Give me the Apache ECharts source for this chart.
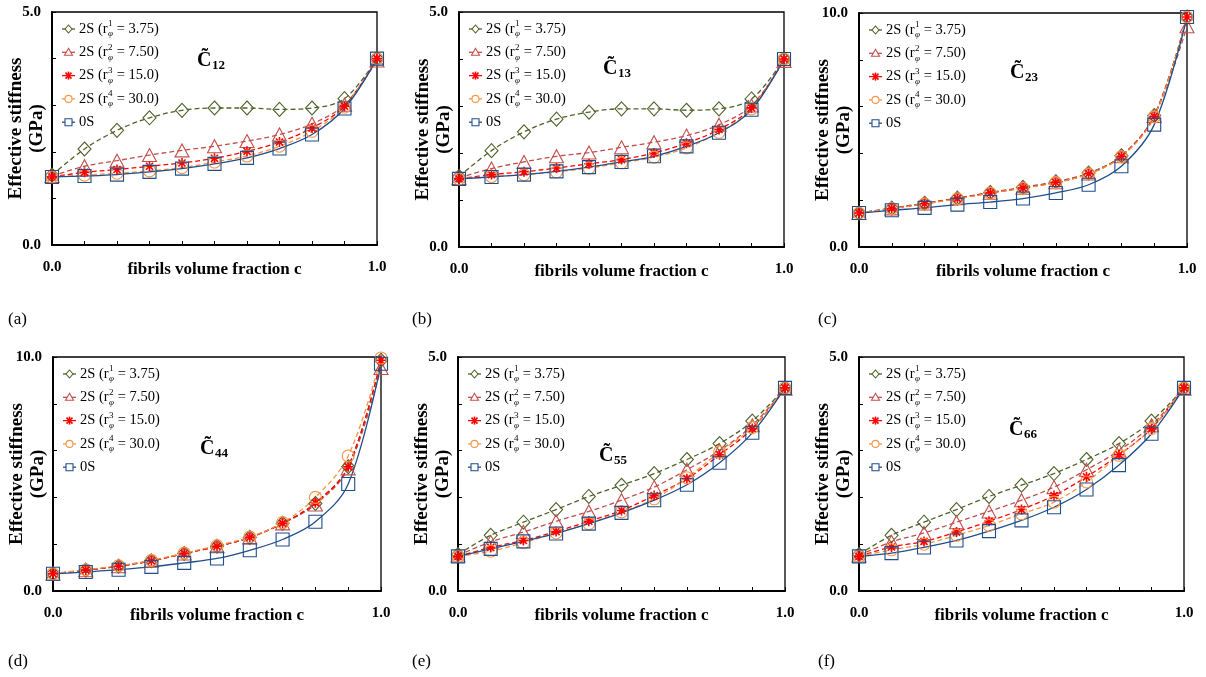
<!DOCTYPE html>
<html><head><meta charset="utf-8">
<script src="https://cdn.jsdelivr.net/npm/echarts@6/dist/echarts.min.js"></script>
<style>html,body{margin:0;padding:0;background:#fff}#c{width:1206px;height:677px}</style>
</head><body><div id="c"></div>
<script>
// ---------------- DATA ----------------
const cFrac = [0, 0.1, 0.2, 0.3, 0.4, 0.5, 0.6, 0.7, 0.8, 0.9, 1.0];

const c12_r1 = [1.50, 2.06, 2.46, 2.73, 2.89, 2.94, 2.94, 2.91, 2.94, 3.14, 4.00];
const c12_r2 = [1.48, 1.69, 1.81, 1.93, 2.03, 2.12, 2.23, 2.37, 2.60, 3.01, 3.96];
const c12_r3 = [1.46, 1.56, 1.62, 1.69, 1.76, 1.86, 2.01, 2.21, 2.51, 2.98, 4.00];
const c12_r4 = [1.46, 1.50, 1.54, 1.59, 1.66, 1.78, 1.91, 2.12, 2.44, 2.96, 4.00];
const c12_0s = [1.46, 1.48, 1.51, 1.57, 1.64, 1.74, 1.87, 2.07, 2.37, 2.93, 4.00];

const c13_r1 = [1.50, 2.05, 2.45, 2.72, 2.87, 2.94, 2.94, 2.91, 2.94, 3.15, 4.00];
const c13_r2 = [1.47, 1.67, 1.81, 1.93, 2.01, 2.12, 2.23, 2.37, 2.60, 3.01, 3.96];
const c13_r3 = [1.45, 1.54, 1.60, 1.68, 1.77, 1.86, 2.00, 2.21, 2.50, 2.96, 4.00];
const c13_r4 = [1.45, 1.50, 1.54, 1.60, 1.68, 1.79, 1.91, 2.11, 2.44, 2.94, 4.00];
const c13_0s = [1.45, 1.49, 1.54, 1.61, 1.70, 1.81, 1.93, 2.14, 2.43, 2.92, 4.00];

const c23_r1 = [1.45, 1.66, 1.87, 2.09, 2.33, 2.55, 2.79, 3.16, 3.90, 5.62, 9.83];
const c23_r2 = [1.45, 1.65, 1.86, 2.08, 2.32, 2.53, 2.77, 3.14, 3.88, 5.60, 9.43];
const c23_r3 = [1.45, 1.64, 1.85, 2.07, 2.31, 2.52, 2.76, 3.13, 3.87, 5.58, 9.83];
const c23_r4 = [1.45, 1.64, 1.84, 2.06, 2.30, 2.51, 2.75, 3.12, 3.86, 5.56, 9.83];
const c23_0s = [1.45, 1.57, 1.67, 1.81, 1.92, 2.07, 2.31, 2.66, 3.45, 5.23, 9.83];

const c44_r1 = [0.74, 0.89, 1.06, 1.29, 1.60, 1.91, 2.29, 2.89, 3.74, 5.31, 9.86];
const c44_r2 = [0.74, 0.89, 1.06, 1.29, 1.60, 1.91, 2.29, 2.89, 3.70, 5.24, 9.53];
const c44_r3 = [0.74, 0.89, 1.06, 1.29, 1.60, 1.91, 2.29, 2.89, 3.77, 5.31, 9.86];
const c44_r4 = [0.74, 0.91, 1.08, 1.31, 1.62, 1.94, 2.31, 2.92, 4.00, 5.77, 9.96];
const c44_0s = [0.74, 0.81, 0.91, 1.03, 1.20, 1.39, 1.74, 2.20, 2.96, 4.57, 9.71];

const c55_r1 = [0.78, 1.19, 1.47, 1.74, 2.02, 2.26, 2.51, 2.81, 3.15, 3.63, 4.34];
const c55_r2 = [0.76, 1.05, 1.26, 1.49, 1.70, 1.94, 2.22, 2.59, 3.00, 3.54, 4.32];
const c55_r3 = [0.74, 0.93, 1.08, 1.27, 1.49, 1.72, 2.04, 2.40, 2.91, 3.47, 4.34];
const c55_r4 = [0.74, 0.85, 1.03, 1.24, 1.44, 1.69, 1.97, 2.42, 2.97, 3.49, 4.34];
const c55_0s = [0.74, 0.90, 1.06, 1.23, 1.44, 1.67, 1.94, 2.27, 2.74, 3.38, 4.34];

const c66_r1 = [0.78, 1.19, 1.47, 1.74, 2.02, 2.26, 2.51, 2.81, 3.15, 3.63, 4.34];
const c66_r2 = [0.76, 1.05, 1.24, 1.47, 1.70, 1.94, 2.22, 2.59, 3.00, 3.54, 4.32];
const c66_r3 = [0.74, 0.94, 1.06, 1.26, 1.49, 1.74, 2.04, 2.44, 2.91, 3.47, 4.34];
const c66_r4 = [0.74, 0.88, 1.00, 1.19, 1.40, 1.65, 1.90, 2.33, 2.90, 3.47, 4.34];
const c66_0s = [0.74, 0.81, 0.93, 1.08, 1.28, 1.51, 1.79, 2.17, 2.69, 3.36, 4.34];

const panelSeries = [
  [c12_r1, c12_r2, c12_r3, c12_r4, c12_0s],
  [c13_r1, c13_r2, c13_r3, c13_r4, c13_0s],
  [c23_r1, c23_r2, c23_r3, c23_r4, c23_0s],
  [c44_r1, c44_r2, c44_r3, c44_r4, c44_0s],
  [c55_r1, c55_r2, c55_r3, c55_r4, c55_0s],
  [c66_r1, c66_r2, c66_r3, c66_r4, c66_0s]
];
const panelSubs = ['12', '13', '23', '44', '55', '66'];
const panelTags = ['(a)', '(b)', '(c)', '(d)', '(e)', '(f)'];
const yMaxes = [5, 5, 10, 10, 5, 5];
const yIntervals = [1, 1, 2, 2, 1, 1];
const legendSup = ['1', '2', '3', '4'];
const legendVal = ['3.75', '7.50', '15.0', '30.0'];
const seriesNames = ['2S (r1 = 3.75)', '2S (r2 = 7.50)', '2S (r3 = 15.0)', '2S (r4 = 30.0)', '0S'];
const xTitle = 'fibrils volume fraction c';
const yTitle = 'Effective stiffness\n(GPa)';

// ---------------- STYLE / LAYOUT ----------------
const SERIF = '"Liberation Serif", "Times New Roman", serif';
const starPath = 'path://M5,0L5,10M1.46,1.46L8.54,8.54M1.46,8.54L8.54,1.46M0,5L10,5';
const styles = [
  { color: '#4F6228', symbol: 'diamond', size: [13, 14], dashed: true },
  { color: '#C0504D', symbol: 'triangle', size: [14, 13], dashed: true },
  { color: '#FF0000', symbol: starPath, size: [10, 10], dashed: true },
  { color: '#F79646', symbol: 'circle', size: [12, 12], dashed: true },
  { color: '#1F4E8C', symbol: 'rect', size: [13, 13], dashed: false }
];
const layout = [
  { left: 52, top: 12, width: 325, height: 233, cx: 197, cy: 61, tx: 8, ty: 320 },
  { left: 459, top: 12, width: 325, height: 235, cx: 603, cy: 69, tx: 412, ty: 320 },
  { left: 859, top: 13, width: 328, height: 234, cx: 1010, cy: 73, tx: 818, ty: 320 },
  { left: 53, top: 357, width: 328, height: 234, cx: 200, cy: 449, tx: 8, ty: 662 },
  { left: 458, top: 357, width: 327, height: 234, cx: 599, cy: 456, tx: 412, ty: 662 },
  { left: 859, top: 357, width: 325, height: 234, cx: 1009, cy: 430, tx: 818, ty: 662 }
];

const mctx = document.createElement('canvas').getContext('2d');
function tw(text, font) { mctx.font = font; return mctx.measureText(text).width; }

const grids = [], xAxes = [], yAxes = [], series = [], graphics = [];

layout.forEach((L, p) => {
  grids.push({ left: L.left, top: L.top, width: L.width, height: L.height, show: true,
    outerBoundsMode: 'none', containLabel: false,
    borderColor: '#000', borderWidth: 1.3, backgroundColor: 'transparent' });
  xAxes.push({
    gridIndex: p, type: 'value', min: 0, max: 1, interval: 0.1,
    axisLine: { lineStyle: { color: '#000', width: 2 } },
    axisTick: { inside: true, length: 4, lineStyle: { color: '#000', width: 1 } },
    splitLine: { show: false },
    axisLabel: { margin: 15, color: '#000', fontFamily: SERIF, fontWeight: 'bold', fontSize: 15,
      showMinLabel: true, showMaxLabel: true,
      formatter: v => (v < 0.001 ? '0.0' : (v > 0.999 ? '1.0' : '')) },
    name: xTitle, nameLocation: 'middle', nameGap: 16, nameMoveOverlap: false,
    nameTextStyle: { color: '#000', fontFamily: SERIF, fontWeight: 'bold', fontSize: 17 }
  });
  const ym = yMaxes[p];
  yAxes.push({
    gridIndex: p, type: 'value', min: 0, max: ym, interval: yIntervals[p],
    axisLine: { show: true, lineStyle: { color: '#000', width: 2 } },
    axisTick: { show: true, inside: true, length: 4, lineStyle: { color: '#000', width: 1 } },
    splitLine: { show: false },
    axisLabel: { margin: 11, color: '#000', fontFamily: SERIF, fontWeight: 'bold', fontSize: 15,
      showMinLabel: true, showMaxLabel: true,
      formatter: v => (v === 0 || v === ym) ? v.toFixed(1) : '' },
    name: yTitle, nameLocation: 'middle', nameRotate: 90, nameGap: 4, nameMoveOverlap: false,
    nameTextStyle: { color: '#000', fontFamily: SERIF, fontWeight: 'bold', fontSize: 19, lineHeight: 21 }
  });
  panelSeries[p].forEach((arr, s) => {
    const st = styles[s];
    series.push({
      type: 'line', name: seriesNames[s], xAxisIndex: p, yAxisIndex: p,
      data: cFrac.map((c, i) => [c, arr[i]]),
      smooth: 0.35, symbol: st.symbol, symbolSize: st.size, symbolKeepAspect: true,
      showSymbol: true, showAllSymbol: true, animation: false,
      itemStyle: { color: 'rgba(255,255,255,0)', borderColor: st.color, borderWidth: s === 2 ? 1.6 : 1.1 },
      lineStyle: { color: st.color, width: 1.3, type: st.dashed ? [5, 3] : 'solid' },
      emphasis: { disabled: true }
    });
  });

  // legend (drawn as graphics so the stacked super/subscripts can be reproduced)
  styles.forEach((st, i) => {
    const y = L.top + 17 + i * 23.3;
    const mx = L.left + 16.5;
    graphics.push({ type: 'line', shape: { x1: L.left + 10, y1: y, x2: L.left + 23, y2: y },
      style: { stroke: st.color, lineWidth: 1.3 }, z: 100 });
    const ms = { stroke: st.color, fill: '#fff', lineWidth: 1.1 };
    if (i === 0) graphics.push({ type: 'polygon', shape: { points: [[mx, y - 4], [mx + 3.5, y], [mx, y + 4], [mx - 3.5, y]] }, style: ms, z: 101 });
    if (i === 1) graphics.push({ type: 'polygon', shape: { points: [[mx, y - 4], [mx + 4, y + 3], [mx - 4, y + 3]] }, style: ms, z: 101 });
    if (i === 2) {
      [[0, -4, 0, 4], [-3, -3, 3, 3], [-3, 3, 3, -3]].forEach(d => graphics.push({ type: 'line',
        shape: { x1: mx + d[0], y1: y + d[1], x2: mx + d[2], y2: y + d[3] }, style: { stroke: st.color, lineWidth: 1.6 }, z: 101 }));
    }
    if (i === 3) graphics.push({ type: 'circle', shape: { cx: mx, cy: y, r: 3.5 }, style: ms, z: 101 });
    if (i === 4) graphics.push({ type: 'rect', shape: { x: mx - 3.5, y: y - 3.5, width: 7, height: 7 }, style: ms, z: 101 });

    const f = '14.5px ' + SERIF, fs = '9px ' + SERIF, fi = 'italic 9px ' + SERIF;
    let x = L.left + 27;
    if (i < 4) {
      const t1 = '2S (r';
      graphics.push({ type: 'text', style: { text: t1, x: x, y: y, font: f, fill: '#000', textVerticalAlign: 'middle' }, z: 101 });
      x += tw(t1, f) + 0.3;
      graphics.push({ type: 'text', style: { text: legendSup[i], x: x, y: y - 5, font: fs, fill: '#000', textVerticalAlign: 'middle' }, z: 101 });
      graphics.push({ type: 'text', style: { text: 'φ', x: x, y: y + 5, font: fi, fill: '#000', textVerticalAlign: 'middle' }, z: 101 });
      x += Math.max(tw(legendSup[i], fs), tw('φ', fi)) + 0.3;
      graphics.push({ type: 'text', style: { text: ' = ' + legendVal[i] + ')', x: x, y: y, font: f, fill: '#000', textVerticalAlign: 'middle' }, z: 101 });
    } else {
      graphics.push({ type: 'text', style: { text: '0S', x: x, y: y, font: f, fill: '#000', textVerticalAlign: 'middle' }, z: 101 });
    }
  });

  // component label C~ij
  const fC = 'bold 20px ' + SERIF, fSub = 'bold 13px ' + SERIF;
  graphics.push({ type: 'text', style: { text: 'C\u0303', x: L.cx, y: L.cy, font: fC, fill: '#000', textVerticalAlign: 'middle' }, z: 101 });
  graphics.push({ type: 'text', style: { text: panelSubs[p], x: L.cx + tw('C', fC) + 0.5, y: L.cy + 5, font: fSub, fill: '#000', textVerticalAlign: 'middle' }, z: 101 });
  // panel tag
  graphics.push({ type: 'text', style: { text: panelTags[p], x: L.tx, y: L.ty, font: '17px ' + SERIF, fill: '#000', textVerticalAlign: 'middle' }, z: 101 });
});

const chart = echarts.init(document.getElementById('c'), null, { renderer: 'canvas' });
chart.setOption({
  animation: false,
  backgroundColor: '#fff',
  grid: grids, xAxis: xAxes, yAxis: yAxes, series: series, graphic: graphics
});
</script></body></html>
